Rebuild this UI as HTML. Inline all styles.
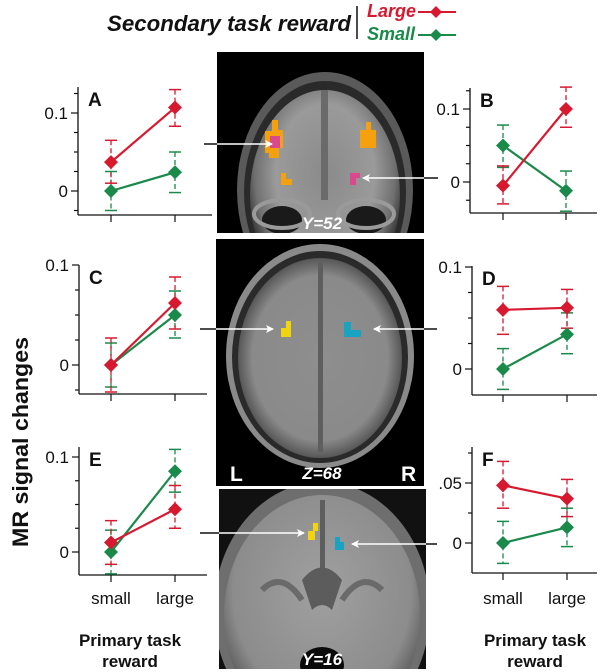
<!DOCTYPE html>
<html><head><meta charset="utf-8">
<style>
html,body{margin:0;padding:0;background:#fff;overflow:hidden;}
svg{display:block;}
text{font-family:"Liberation Sans",Arial,sans-serif;}
</style></head>
<body>
<svg id="s" width="600" height="672" viewBox="0 0 600 672" xmlns="http://www.w3.org/2000/svg">
<defs>
<radialGradient id="g1" cx="50%" cy="40%" r="55%">
<stop offset="0" stop-color="#8a8a8a"/><stop offset="0.6" stop-color="#9a9a9a"/><stop offset="0.85" stop-color="#707070"/><stop offset="1" stop-color="#333"/>
</radialGradient>
<radialGradient id="g2" cx="50%" cy="50%" r="55%">
<stop offset="0" stop-color="#8e8e8e"/><stop offset="0.75" stop-color="#8a8a8a"/><stop offset="0.9" stop-color="#5a5a5a"/><stop offset="1" stop-color="#222"/>
</radialGradient>
<radialGradient id="g3" cx="50%" cy="40%" r="65%">
<stop offset="0" stop-color="#a0a0a0"/><stop offset="0.7" stop-color="#8c8c8c"/><stop offset="1" stop-color="#3a3a3a"/>
</radialGradient>
<clipPath id="c1"><rect x="217" y="52" width="207" height="181"/></clipPath>
<clipPath id="c2"><rect x="216" y="239" width="208" height="247"/></clipPath>
<clipPath id="c3"><rect x="219" y="489" width="207" height="180"/></clipPath>
<marker id="ah" markerWidth="8" markerHeight="8" refX="7" refY="4" orient="auto" markerUnits="userSpaceOnUse">
<path d="M0,0 L8,4 L0,8 L2,4 z" fill="#fff"/></marker>
</defs>

<!-- Legend -->
<text x="107" y="31" font-size="22" font-weight="bold" font-style="italic" fill="#111" textLength="244" lengthAdjust="spacingAndGlyphs">Secondary task reward</text>
<line x1="357" y1="6" x2="357" y2="39" stroke="#111" stroke-width="1.5"/>
<text x="367" y="17" font-size="18" font-weight="bold" font-style="italic" fill="#d7192f">Large</text>
<line x1="418" y1="12" x2="456" y2="12" stroke="#d7192f" stroke-width="2"/>
<path d="M436,6 L442,12 L436,18 L430,12z" fill="#d7192f"/>
<text x="367" y="40" font-size="18" font-weight="bold" font-style="italic" fill="#1a8a4a">Small</text>
<line x1="418" y1="35" x2="456" y2="35" stroke="#1a8a4a" stroke-width="2"/>
<path d="M436,29 L442,35 L436,41 L430,35z" fill="#1a8a4a"/>

<!-- Top brain -->
<g clip-path="url(#c1)">
<rect x="217" y="52" width="207" height="181" fill="#000"/>
<ellipse cx="325" cy="190" rx="88" ry="118" fill="#5a5a5a"/>
<ellipse cx="325" cy="192" rx="81" ry="111" fill="#2a2a2a"/>
<ellipse cx="325" cy="195" rx="75" ry="105" fill="url(#g1)"/>
<rect x="321" y="90" width="7" height="110" fill="#6a6a6a"/>
<ellipse cx="282" cy="220" rx="20" ry="14" fill="#1a1a1a"/>
<ellipse cx="366" cy="220" rx="20" ry="14" fill="#1a1a1a"/>
<ellipse cx="282" cy="214" rx="28" ry="14" fill="none" stroke="#9a9a9a" stroke-width="4"/>
<ellipse cx="366" cy="214" rx="28" ry="14" fill="none" stroke="#9a9a9a" stroke-width="4"/>
</g>
<path d="M272,120 h6 v10 h5 v18 h-4 v10 h-10 v-5 h-4 v-22 h7z" fill="#f5a10f"/>
<rect x="270" y="136" width="10" height="12" fill="#d9498c"/>
<path d="M366,122 h5 v8 h5 v18 h-16 v-18 h6z" fill="#f5a10f"/>
<path d="M281,173 h5 v6 h6 v6 h-11z" fill="#f5a10f"/>
<path d="M350,173 h10 v5 h-4 v7 h-6z" fill="#d9498c"/>
<text x="322" y="229" font-size="17" font-weight="bold" font-style="italic" fill="#fff" text-anchor="middle">Y=52</text>
<line x1="204" y1="144" x2="272" y2="144" stroke="#fff" stroke-width="1.5" marker-end="url(#ah)"/>
<line x1="204" y1="144" x2="217" y2="144" stroke="#111" stroke-width="1.5"/>
<line x1="438" y1="178" x2="363" y2="178" stroke="#fff" stroke-width="1.5" marker-end="url(#ah)"/>
<line x1="424" y1="178" x2="438" y2="178" stroke="#111" stroke-width="1.5"/>

<!-- Middle brain -->
<g clip-path="url(#c2)">
<rect x="216" y="239" width="208" height="247" fill="#000"/>
<ellipse cx="320" cy="356" rx="94" ry="112" fill="#8a8a8a"/>
<ellipse cx="320" cy="357" rx="88" ry="106" fill="#2a2a2a"/>
<ellipse cx="320" cy="358" rx="82" ry="100" fill="url(#g2)"/>
<rect x="318" y="262" width="5" height="190" fill="#5e5e5e"/>
</g>
<path d="M286,321 h5 v16 h-10 v-9 h5z" fill="#f1d40e"/>
<path d="M344,322 h7 v8 h10 v7 h-17z" fill="#19a3c3"/>
<line x1="200" y1="329" x2="273" y2="329" stroke="#fff" stroke-width="1.5" marker-end="url(#ah)"/>
<line x1="200" y1="329" x2="216" y2="329" stroke="#111" stroke-width="1.5"/>
<line x1="437" y1="329" x2="374" y2="329" stroke="#fff" stroke-width="1.5" marker-end="url(#ah)"/>
<line x1="424" y1="329" x2="437" y2="329" stroke="#111" stroke-width="1.5"/>
<text x="230" y="481" font-size="21" font-weight="bold" fill="#fff">L</text>
<text x="401" y="481" font-size="21" font-weight="bold" fill="#fff">R</text>
<text x="322" y="479" font-size="17" font-weight="bold" font-style="italic" fill="#fff" text-anchor="middle">Z=68</text>

<!-- Bottom brain -->
<g clip-path="url(#c3)">
<rect x="219" y="489" width="207" height="180" fill="#111"/>
<ellipse cx="322" cy="610" rx="108" ry="128" fill="#6e6e6e"/>
<ellipse cx="322" cy="615" rx="98" ry="120" fill="url(#g3)"/>
<rect x="320" y="500" width="5" height="80" fill="#5e5e5e"/>
<path d="M302,580 q20,-25 40,0 l-10,30 q-10,-10 -20,0z" fill="#5c5c5c"/>
<path d="M262,590 q20,-20 40,10" stroke="#6a6a6a" stroke-width="6" fill="none"/>
<path d="M382,590 q-20,-20 -40,10" stroke="#6a6a6a" stroke-width="6" fill="none"/>
<ellipse cx="322" cy="665" rx="22" ry="18" fill="#0a0a0a"/>
</g>
<path d="M313,523 h5 v8 h-3 v9 h-7 v-9 h5z" fill="#f1d40e"/>
<path d="M335,537 h5 v5 h4 v8 h-9z" fill="#19a3c3"/>
<line x1="200" y1="533" x2="304" y2="533" stroke="#fff" stroke-width="1.5" marker-end="url(#ah)"/>
<line x1="200" y1="533" x2="219" y2="533" stroke="#111" stroke-width="1.5"/>
<line x1="437" y1="544" x2="352" y2="544" stroke="#fff" stroke-width="1.5" marker-end="url(#ah)"/>
<line x1="426" y1="544" x2="437" y2="544" stroke="#111" stroke-width="1.5"/>
<text x="322" y="665" font-size="17" font-weight="bold" font-style="italic" fill="#fff" text-anchor="middle">Y=16</text>

<!-- axis labels -->
<text transform="translate(28,442) rotate(-90)" font-size="22" font-weight="bold" fill="#111" text-anchor="middle" textLength="210" lengthAdjust="spacingAndGlyphs">MR signal changes</text>
<g font-size="17" fill="#111" text-anchor="middle">
<text x="111" y="604">small</text><text x="175" y="604">large</text>
<text x="503" y="604">small</text><text x="567" y="604">large</text>
</g>
<g font-size="17" font-weight="bold" fill="#111" text-anchor="middle">
<text x="130" y="646">Primary task</text><text x="130" y="667">reward</text>
<text x="535" y="646">Primary task</text><text x="535" y="667">reward</text>
</g>
<g id="charts"></g>
</svg>
<script>
var R="#d7192f",G="#1a8a4a";
var g=document.getElementById("charts"),h="";
function ch(c){
 var y=function(v){return c.y0-v*c.k;};
 h+='<line x1="'+c.ax+'" y1="'+c.top+'" x2="'+c.ax+'" y2="'+c.base+'" stroke="#111" stroke-width="1.3"/>';
 h+='<line x1="'+c.ax+'" y1="'+c.base+'" x2="'+c.right+'" y2="'+c.base+'" stroke="#111" stroke-width="1.3"/>';
 for(var v=-0.1;v<=0.2;v+=0.025){var p=y(v);if(p<c.top-1||p>c.base-2)continue;
  var maj=Math.abs(v)<1e-6||Math.abs(v-c.lv)<1e-6;
  h+='<line x1="'+(c.ax-(maj?7:4))+'" y1="'+p+'" x2="'+c.ax+'" y2="'+p+'" stroke="#111" stroke-width="1.2"/>';}
 h+='<text x="'+(c.ax-10)+'" y="'+(y(c.lv)+6)+'" font-size="17" text-anchor="end" fill="#111">'+c.lt+'</text>';
 h+='<text x="'+(c.ax-10)+'" y="'+(y(0)+6)+'" font-size="17" text-anchor="end" fill="#111">0</text>';
 c.xs.forEach(function(x){h+='<line x1="'+x+'" y1="'+c.base+'" x2="'+x+'" y2="'+(c.base+7)+'" stroke="#111" stroke-width="1.2"/>';});
 h+='<text x="'+(c.ax+10)+'" y="'+(c.top+19)+'" font-size="19" font-weight="bold" fill="#111">'+c.L+'</text>';
 [[G,c.g],[R,c.r]].forEach(function(s){var col=s[0],d=s[1];
  for(var i=0;i<2;i++){var x=c.xs[i],hi=y(d[i][1]),lo=y(d[i][2]);
   h+='<line x1="'+x+'" y1="'+hi+'" x2="'+x+'" y2="'+lo+'" stroke="'+col+'" stroke-width="1.3" stroke-dasharray="5,3"/>';
   h+='<line x1="'+(x-6)+'" y1="'+hi+'" x2="'+(x+6)+'" y2="'+hi+'" stroke="'+col+'" stroke-width="1.5"/>';
   h+='<line x1="'+(x-6)+'" y1="'+lo+'" x2="'+(x+6)+'" y2="'+lo+'" stroke="'+col+'" stroke-width="1.5"/>';}
 });
 [[G,c.g],[R,c.r]].forEach(function(s){var col=s[0],d=s[1];
  h+='<line x1="'+c.xs[0]+'" y1="'+y(d[0][0])+'" x2="'+c.xs[1]+'" y2="'+y(d[1][0])+'" stroke="'+col+'" stroke-width="2.2"/>';
  for(var i=0;i<2;i++){var x=c.xs[i],p=y(d[i][0]);
   h+='<path d="M'+x+','+(p-7)+' L'+(x+7)+','+p+' L'+x+','+(p+7)+' L'+(x-7)+','+p+'z" fill="'+col+'"/>';}
 });
}
ch({L:"A",ax:78,top:87,base:215,right:212,xs:[111,175],y0:191,k:780,lv:0.1,lt:"0.1",
 r:[[0.037,0.065,0.010],[0.107,0.13,0.083]],g:[[0,0.025,-0.025],[0.024,0.05,-0.002]]});
ch({L:"B",ax:470,top:88,base:213,right:597,xs:[503,566],y0:182,k:730,lv:0.1,lt:"0.1",
 r:[[-0.005,0.022,-0.03],[0.1,0.13,0.075]],g:[[0.05,0.078,0.02],[-0.012,0.015,-0.04]]});
ch({L:"C",ax:79,top:265,base:394,right:207,xs:[111,175],y0:365,k:1000,lv:0.1,lt:"0.1",
 r:[[0,0.027,-0.027],[0.062,0.088,0.036]],g:[[0,0.022,-0.022],[0.05,0.074,0.027]]});
ch({L:"D",ax:472,top:266,base:395,right:597,xs:[503,567],y0:369,k:1020,lv:0.1,lt:"0.1",
 r:[[0.058,0.081,0.034],[0.06,0.078,0.04]],g:[[0,0.02,-0.02],[0.034,0.055,0.015]]});
ch({L:"E",ax:79,top:447,base:575,right:207,xs:[111,175],y0:552,k:950,lv:0.1,lt:"0.1",
 r:[[0.01,0.033,-0.013],[0.045,0.07,0.025]],g:[[0,0.023,-0.023],[0.085,0.108,0.063]]});
ch({L:"F",ax:472,top:447,base:573,right:597,xs:[503,567],y0:543,k:1200,lv:0.05,lt:".05",
 r:[[0.048,0.068,0.029],[0.037,0.053,0.022]],g:[[0,0.018,-0.017],[0.013,0.029,-0.003]]});
g.innerHTML=h;
</script>
</body></html>
